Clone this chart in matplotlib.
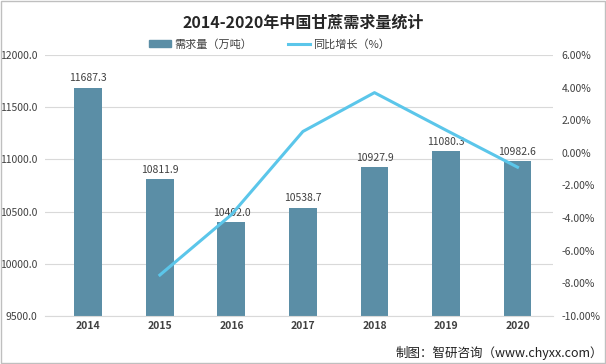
import matplotlib
matplotlib.use('Agg')
from matplotlib import pyplot as plt
from matplotlib.patches import Rectangle
from matplotlib.lines import Line2D

plt.rcParams['font.family'] = ['Noto Sans CJK SC', 'DejaVu Sans']

# data
years = ['2014', '2015', '2016', '2017', '2018', '2019', '2020']
demand = [11687.3, 10811.9, 10402.0, 10538.7, 10927.9, 11080.3, 10982.6]
growth_years = ['2015', '2016', '2017', '2018', '2019', '2020']
growth = [-7.49, -3.79, 1.31, 3.69, 1.39, -0.88]

bar_color = '#5b8ea6'
line_color = '#5bc6ea'
text_color = '#404040'

fig = plt.figure(figsize=(6.06, 3.64), dpi=100)
ax = fig.add_axes([0.075, 0.132, 0.838, 0.717])

x = list(range(len(years)))
ax.bar(x, demand, width=0.39, color=bar_color, zorder=2)
for xi, v in zip(x, demand):
    ax.text(xi, v + 40, f'{v:.1f}', ha='center', va='bottom', fontsize=7.5,
            color=text_color, zorder=4)

ax.set_ylim(9500, 12000)
ax.set_yticks([9500, 10000, 10500, 11000, 11500, 12000])
ax.set_yticklabels([f'{v:.1f}' for v in ax.get_yticks()])
ax.set_xlim(-0.6, len(years) - 0.5)
ax.set_xticks(x)
ax.set_xticklabels(years, fontweight='bold', fontsize=7.5, color='#202020')
ax.grid(axis='y', color='#d9d9d9', linewidth=0.8, zorder=0)
for s in ['top', 'right', 'left']:
    ax.spines[s].set_visible(False)
ax.spines['bottom'].set_color('#d9d9d9')
ax.tick_params(axis='both', length=0, labelsize=7.5, labelcolor=text_color)
ax.tick_params(axis='y', pad=6)

ax2 = ax.twinx()
gx = [years.index(y) for y in growth_years]
ax2.plot(gx, growth, color=line_color, linewidth=2.2, zorder=3)
ax2.set_ylim(-10, 6)
ax2.set_yticks(range(-10, 7, 2))
ax2.set_yticklabels([f'{v:.2f}%' for v in range(-10, 7, 2)])
for s in ax2.spines.values():
    s.set_visible(False)
ax2.tick_params(axis='y', length=0, labelsize=7.5, labelcolor=text_color, pad=6)

fig.text(0.5, 0.937, '2014-2020年中国甘蔗需求量统计', ha='center', va='center',
         fontsize=11.5, fontweight='bold', color='#262626')

handles = [Rectangle((0, 0), 1, 1, color=bar_color),
           Line2D([0], [0], color=line_color, linewidth=2.2)]
fig.legend(handles, ['需求量（万吨）', '同比增长（%）'], loc='center',
           bbox_to_anchor=(0.445, 0.878), ncol=2, frameon=False, fontsize=8,
           handlelength=2.0, handleheight=0.6, handletextpad=0.3,
           columnspacing=3.2, labelcolor=text_color)

fig.text(0.995, 0.03, '制图：智研咨询（www.chyxx.com）', ha='right', va='center',
         fontsize=9, color='#202020')

fig.patches.append(Rectangle((0.001, 0.002), 0.997, 0.995, transform=fig.transFigure,
                             fill=False, edgecolor='#bfbfbf', linewidth=1))

fig.savefig('out.png', dpi=100)
